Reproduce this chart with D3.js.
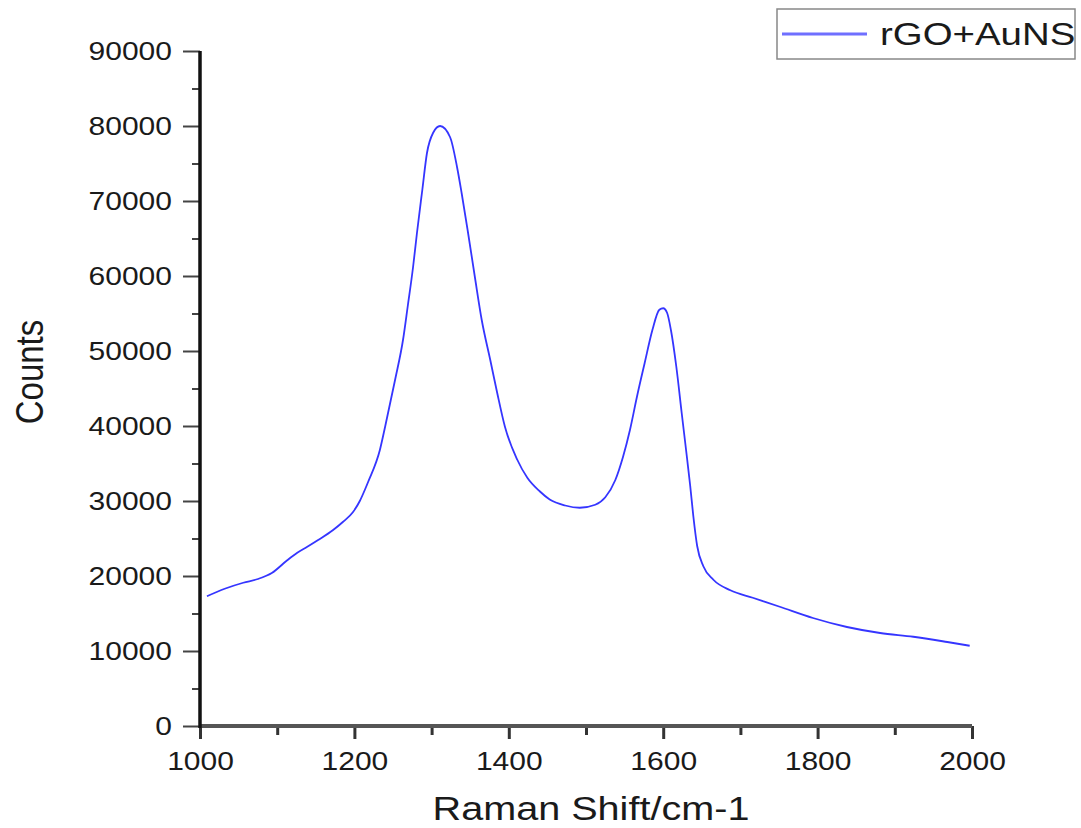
<!DOCTYPE html>
<meta charset="utf-8">
<style>
    body { margin: 0; background: #fff; }
    svg { font-family: "Liberation Sans", Arial, sans-serif; }
    .axis path.domain { display: none; }
    .axis text { fill: #1a1a1a; font-size: 25px; }
    .title { fill: #1a1a1a; }
</style>
<body>
<script src="https://cdnjs.cloudflare.com/ajax/libs/d3/7.8.5/d3.min.js"></script>
<script>
    // spectrum (Raman shift, counts)
    var ramanShift = [1009, 1032, 1056, 1075, 1093, 1113, 1126, 1139, 1153, 1172,
        1185, 1198, 1207, 1214, 1218, 1233, 1240, 1253, 1263, 1269,
        1276, 1281, 1288, 1294, 1302, 1311, 1324, 1333, 1339, 1347,
        1356, 1365, 1376, 1385, 1395, 1411, 1424, 1440, 1453, 1473,
        1492, 1512, 1525, 1538, 1548, 1557, 1566, 1576, 1586, 1595,
        1600, 1605, 1610, 1617, 1624, 1631, 1635, 1639, 1644, 1652,
        1665, 1687, 1716, 1751, 1794, 1838, 1881, 1924, 1968, 1997];
    var counts = [17300, 18300, 19100, 19600, 20400, 22100, 23100, 23900, 24800, 26100,
        27200, 28500, 30000, 31600, 32600, 36800, 40000, 46300, 51500, 55900,
        61200, 65700, 71500, 76400, 79100, 80000, 78500, 74500, 71000, 65900,
        59900, 54100, 48800, 44400, 39900, 35500, 33100, 31300, 30200, 29400,
        29100, 29500, 30500, 32800, 35900, 39500, 43900, 48400, 52800, 55500,
        55700, 55100, 52800, 47900, 41700, 35600, 32000, 28000, 24000, 21300,
        19500, 18100, 17100, 15900, 14400, 13200, 12400, 11900, 11200, 10700];

    var xTicks = [1000, 1200, 1400, 1600, 1800, 2000];
    var xMinorTicks = [1100, 1300, 1500, 1700, 1900];
    var yTicks = [0, 10000, 20000, 30000, 40000, 50000, 60000, 70000, 80000, 90000];
    var yMinorTicks = [5000, 15000, 25000, 35000, 45000, 55000, 65000, 75000, 85000];

    var seriesName = "rGO+AuNS";
    var stretch = 1.2; // the picture's text is drawn a bit wide

    var width = 1081, height = 828;
    var plot = {left: 200, right: 972, top: 51, bottom: 726};

    var svg = d3.select("body").append("svg")
            .attr("width", width)
            .attr("height", height);

    var x = d3.scaleLinear().domain([1000, 2000]).range([plot.left, plot.right]);
    var y = d3.scaleLinear().domain([0, 90000]).range([plot.bottom, plot.top]);

    // minor ticks first, majors on top
    svg.append("g")
            .attr("class", "axis")
            .attr("transform", "translate(" + plot.left + ",0)")
            .call(d3.axisLeft(y).tickValues(yMinorTicks).tickSize(8).tickFormat(""))
        .selectAll("line").attr("stroke", "#444").attr("stroke-width", 2);

    var yAxis = svg.append("g")
            .attr("class", "axis y")
            .attr("transform", "translate(" + plot.left + ",0)")
            .call(d3.axisLeft(y).tickValues(yTicks).tickSize(17).tickPadding(11).tickFormat(d3.format("d")));
    yAxis.selectAll("line").attr("stroke", "#444").attr("stroke-width", 2);

    svg.append("g")
            .attr("class", "axis")
            .attr("transform", "translate(0," + plot.bottom + ")")
            .call(d3.axisBottom(x).tickValues(xMinorTicks).tickSize(9).tickFormat(""))
        .selectAll("line").attr("stroke", "#333").attr("stroke-width", 3);

    var xAxis = svg.append("g")
            .attr("class", "axis x")
            .attr("transform", "translate(0," + plot.bottom + ")")
            .call(d3.axisBottom(x).tickValues(xTicks).tickSize(13).tickPadding(13).tickFormat(d3.format("d")));
    xAxis.selectAll("line").attr("stroke", "#333").attr("stroke-width", 3);

    // axis lines
    svg.append("line")
            .attr("x1", plot.left).attr("x2", plot.right)
            .attr("y1", plot.bottom).attr("y2", plot.bottom)
            .attr("stroke", "#555").attr("stroke-width", 4);
    svg.append("line")
            .attr("x1", plot.left).attr("x2", plot.left)
            .attr("y1", y(90000)).attr("y2", plot.bottom + 2)
            .attr("stroke", "#111").attr("stroke-width", 3.5);

    var data = ramanShift.map(function (d, i) {
        return {shift: d, counts: counts[i]};
    });

    var line = d3.line()
            .x(function (d) { return x(d.shift); })
            .y(function (d) { return y(d.counts); })
            .curve(d3.curveMonotoneX);

    svg.append("path")
            .datum(data)
            .attr("fill", "none")
            .attr("stroke", "#3535ff")
            .attr("stroke-width", 1.8)
            .attr("d", line);

    // axis titles
    svg.append("text")
            .attr("class", "title")
            .attr("transform", "translate(43,372) rotate(-90) scale(1," + stretch + ")")
            .attr("text-anchor", "middle")
            .style("font-size", "33px")
            .text("Counts");

    svg.append("text")
            .attr("class", "title wide")
            .attr("x", 591)
            .attr("y", 820)
            .attr("text-anchor", "middle")
            .style("font-size", "33px")
            .text("Raman Shift/cm-1");

    // legend
    var legend = svg.append("g").attr("class", "legend");
    legend.append("rect")
            .attr("x", 777).attr("y", 9)
            .attr("width", 298).attr("height", 50)
            .attr("fill", "#fff")
            .attr("stroke", "#888")
            .attr("stroke-width", 1.5);
    legend.append("line")
            .attr("x1", 782).attr("x2", 867)
            .attr("y1", 34).attr("y2", 34)
            .attr("stroke", "#6f6fff")
            .attr("stroke-width", 3);
    legend.append("text")
            .attr("class", "title wide")
            .attr("x", 880)
            .attr("y", 45)
            .style("font-size", "32px")
            .text(seriesName);

    // widen the horizontal texts like in the picture
    svg.selectAll(".axis text, text.wide").each(function () {
        var w = this.getComputedTextLength();
        d3.select(this)
                .attr("textLength", w * stretch)
                .attr("lengthAdjust", "spacingAndGlyphs");
    });
</script>
</body>
